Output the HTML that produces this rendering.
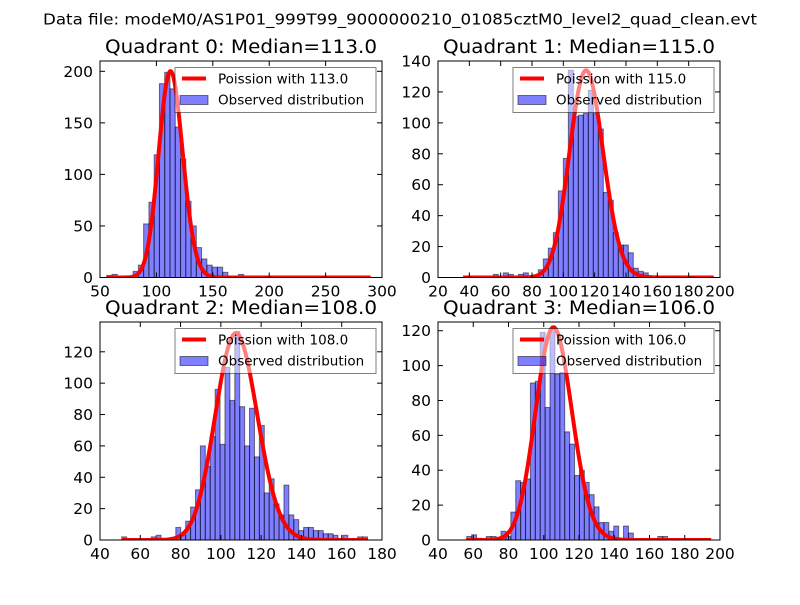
<!DOCTYPE html>
<html><head><meta charset="utf-8">
<style>
html,body{margin:0;padding:0;background:#fff;}
svg text{font-family:"DejaVu Sans","Liberation Sans",sans-serif;fill:#000;}
</style></head>
<body>
<svg id="fig" width="800" height="600" viewBox="0 0 800 600" xmlns="http://www.w3.org/2000/svg">
<rect width="800" height="600" fill="#fff"/>
<text x="43" y="24.5" font-size="15.5" textLength="714" lengthAdjust="spacingAndGlyphs">Data file: modeM0/AS1P01_999T99_9000000210_01085cztM0_level2_quad_clean.evt</text>
</svg>
<script>
// ---- data ----
const q0Counts=[2,3,0,0,0,6,12,52,73,119,188,199,183,146,115,74,50,29,18,12,10,10,5,0,0,3,0,0,0,0,0,0,0,0,0,0,0,0,0,0,0,0,0,0,0,0,0,0,0,0];
const q0BinStart=56, q0BinWidth=4.67;
const q0Median=113.0, q0Scale=5333, q0Range=[56,290];
const q0XTicks=[50,100,150,200,250,300];
const q0YTicks=[0,50,100,150,200];
const q0XLim=[50,300], q0YLim=[0,210];

const q1Counts=[0,0,0,0,0,0,2,0,3,2,0,2,3,0,0,5,12,19,29,56,77,134,104,105,106,121,106,96,55,50,29,21,21,16,6,4,3,1,0,0,0,1,1,0,0,0,0,0,0,0];
const q1BinStart=36.2, q1BinWidth=3.19;
const q1Median=115.0, q1Scale=3602, q1Range=[36,196];
const q1XTicks=[20,40,60,80,100,120,140,160,180,200];
const q1YTicks=[0,20,40,60,80,100,120,140];
const q1XLim=[20,200], q1YLim=[0,140];

const q2Counts=[2,0,0,0,0,0,2,3,0,1,1,8,3,12,21,32,60,47,66,96,61,110,89,133,85,60,84,53,73,30,39,23,16,35,16,13,6,8,8,6,6,4,4,3,0,3,0,0,2,2];
const q2BinStart=50.8, q2BinWidth=2.44;
const q2Median=108.0, q2Scale=3437, q2Range=[51,173];
const q2XTicks=[40,60,80,100,120,140,160,180];
const q2YTicks=[0,20,40,60,80,100,120];
const q2XLim=[40,180], q2YLim=[0,139];

const q3Counts=[2,3,1,0,2,2,0,5,2,16,34,33,35,90,91,119,76,121,95,96,62,55,37,40,33,26,19,10,10,5,8,1,8,4,0,0,0,0,0,2,2,0,0,0,0,0,0,0,0,0];
const q3BinStart=56.3, q3BinWidth=2.78;
const q3Median=106.0, q3Scale=3148, q3Range=[56,195];
const q3XTicks=[40,60,80,100,120,140,160,180,200];
const q3YTicks=[0,20,40,60,80,100,120];
const q3XLim=[40,200], q3YLim=[0,125];

const panels=[
 {id:0,box:[100,61,382,277.5],counts:q0Counts,bs:q0BinStart,bw:q0BinWidth,med:q0Median,scale:q0Scale,range:q0Range,xt:q0XTicks,yt:q0YTicks,xl:q0XLim,yl:q0YLim},
 {id:1,box:[438,61,720,277.5],counts:q1Counts,bs:q1BinStart,bw:q1BinWidth,med:q1Median,scale:q1Scale,range:q1Range,xt:q1XTicks,yt:q1YTicks,xl:q1XLim,yl:q1YLim},
 {id:2,box:[100,322,382,540],counts:q2Counts,bs:q2BinStart,bw:q2BinWidth,med:q2Median,scale:q2Scale,range:q2Range,xt:q2XTicks,yt:q2YTicks,xl:q2XLim,yl:q2YLim},
 {id:3,box:[438,322,720,540],counts:q3Counts,bs:q3BinStart,bw:q3BinWidth,med:q3Median,scale:q3Scale,range:q3Range,xt:q3XTicks,yt:q3YTicks,xl:q3XLim,yl:q3YLim}
];
const NS='http://www.w3.org/2000/svg';
const svg=document.getElementById('fig');
function mk(tag,attrs,parent){const e=document.createElementNS(NS,tag);for(const k in attrs)e.setAttribute(k,attrs[k]);(parent||svg).appendChild(e);return e;}
function lgam(n){let s=0;for(let i=2;i<=n;i++)s+=Math.log(i);return s;}

panels.forEach(p=>{
  const [x0,y0,x1,y1]=p.box;
  const sx=v=>x0+(v-p.xl[0])/(p.xl[1]-p.xl[0])*(x1-x0);
  const sy=v=>y1-(v-p.yl[0])/(p.yl[1]-p.yl[0])*(y1-y0);
  const g=mk('g',{});
  
  
  const cid='clip'+p.id;
  const cp=mk('clipPath',{id:cid},g);mk('rect',{x:x0,y:y0,width:x1-x0,height:y1-y0},cp);
  const plot=mk('g',{'clip-path':'url(#'+cid+')'},g);
  // bars
  p.counts.forEach((c,i)=>{
    if(c<=0)return;
    const a=sx(p.bs+i*p.bw), b=sx(p.bs+(i+1)*p.bw);
    const r=mk('rect',{x:a,y:sy(c),width:b-a,height:sy(0)-sy(c),fill:'rgba(0,0,255,0.5)',stroke:'rgba(0,0,0,0.5)','stroke-width':1},plot);
    
    
  });
  // poisson curve
  let d='';
  for(let k=p.range[0];k<=p.range[1];k++){
    const pmf=Math.exp(k*Math.log(p.med)-p.med-lgam(k));
    d+=(d?'L':'M')+sx(k).toFixed(2)+','+sy(pmf*p.scale).toFixed(2);
  }
  const ln=mk('path',{d:d,fill:'none',stroke:'#ff0000','stroke-width':4,'stroke-linejoin':'round'},plot);
  
  
  // axes frame
  const fr=mk('rect',{x:x0,y:y0,width:x1-x0,height:y1-y0,fill:'none',stroke:'#000','stroke-width':1},g);
  
  
  // ticks
  p.xt.forEach(v=>{
    const x=sx(v);
    mk('line',{x1:x,y1:y1,x2:x,y2:y1-5,stroke:'#000'},g);
    mk('line',{x1:x,y1:y0,x2:x,y2:y0+5,stroke:'#000'},g);
    const t=mk('text',{x:x,y:y1+19,'font-size':15.5,'text-anchor':'middle'},g);
    t.textContent=v;
    
    
  });
  p.yt.forEach(v=>{
    const y=sy(v);
    mk('line',{x1:x0,y1:y,x2:x0+5,y2:y,stroke:'#000'},g);
    mk('line',{x1:x1,y1:y,x2:x1-5,y2:y,stroke:'#000'},g);
    const t=mk('text',{x:x0-7,y:y+5.5,'font-size':15.5,'text-anchor':'end'},g);
    t.textContent=v;
    
    
  });
  // title
  const tt=mk('text',{x:(x0+x1)/2,y:y0-8,'font-size':18.5,'text-anchor':'middle',textLength:272,lengthAdjust:'spacingAndGlyphs'},g);
  tt.textContent='Quadrant '+p.id+': Median='+p.med.toFixed(1);
  
  
  // legend
  const lx=x1-207, ly=y0+6.5;
  const lg=mk('g',{},g);
  
  
  mk('rect',{x:lx,y:ly,width:201,height:45,fill:'rgba(255,255,255,0.5)',stroke:'rgba(0,0,0,0.5)','stroke-width':1},lg);
  mk('line',{x1:lx+7,y1:ly+11,x2:lx+31,y2:ly+11,stroke:'#ff0000','stroke-width':4},lg);
  const t1=mk('text',{x:lx+43,y:ly+16,'font-size':13.5},lg);
  t1.textContent='Poission with '+p.med.toFixed(1);
  
  
  mk('rect',{x:lx+5,y:ly+28,width:28,height:9,fill:'rgba(0,0,255,0.5)',stroke:'rgba(0,0,0,0.5)'},lg);
  const t2=mk('text',{x:lx+43,y:ly+37,'font-size':13.5},lg);
  t2.textContent='Observed distribution';
  
  
});
</script>
</body></html>
